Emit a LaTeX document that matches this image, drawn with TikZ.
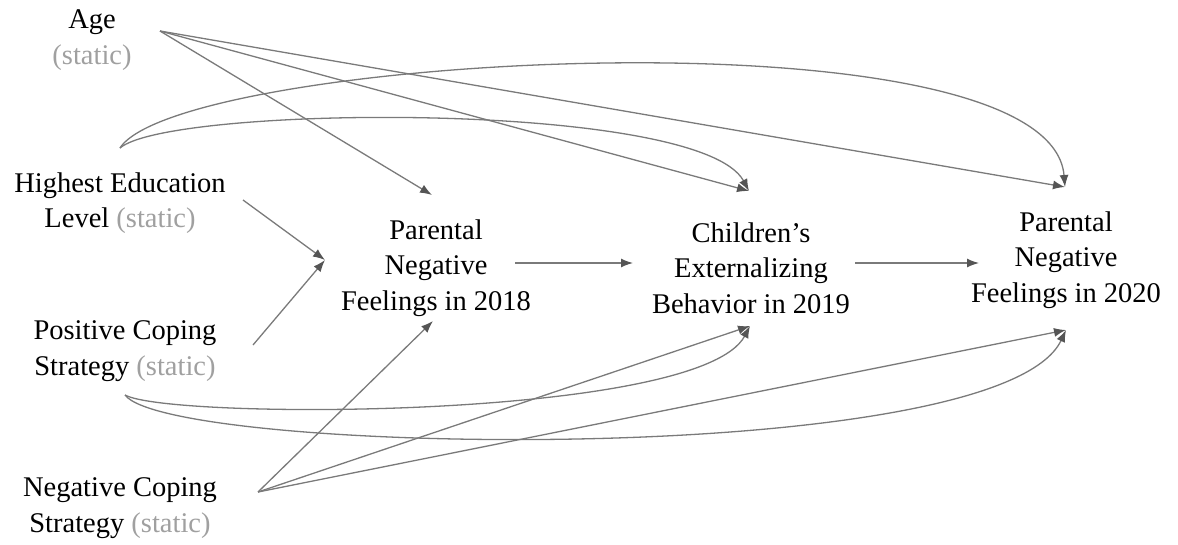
\documentclass[tikz,border=0pt]{standalone}
\usepackage{fontspec}
\setmainfont{Liberation Serif}
\usetikzlibrary{arrows.meta}
\definecolor{lnc}{HTML}{7A7A7A}
\definecolor{tipc}{HTML}{555555}
\definecolor{stc}{HTML}{A0A0A0}
\tikzset{
  lbl/.style={align=center, font=\fontsize{28.5}{35.5}\selectfont, inner sep=0pt},
  conn/.style={draw=lnc, line width=1.3pt, -{Latex[length=12pt,width=9pt,color=tipc]}},
}
\newcommand{\stat}{\textcolor{stc}{(static)}}
\begin{document}
\begin{tikzpicture}[x=1pt,y=-1pt]
\useasboundingbox (0,0) rectangle (1178,544);
% nodes
\node[lbl] (age) at (92,40) {Age\\\stat};
\node[lbl] (edu) at (120,203) {Highest Education\\Level \stat};
\node[lbl] (pos) at (125,351) {Positive Coping\\Strategy \stat};
\node[lbl] (neg) at (120,508) {Negative Coping\\Strategy \stat};
\node[lbl] (p18) at (436,268) {Parental\\Negative\\Feelings in 2018};
\node[lbl] (ch) at (751,268) {Children’s\\Externalizing\\Behavior in 2019};
\node[lbl] (p20) at (1066,260) {Parental\\Negative\\Feelings in 2020};
% connector ends
\coordinate (ageO) at (160,31);
\coordinate (eduC) at (120,148);
\coordinate (eduO) at (243,200);
\coordinate (posO) at (253,345);
\coordinate (posC) at (125,395);
\coordinate (negO) at (258,492);
\coordinate (p18T) at (432,195);
\coordinate (p18L) at (325,260);
\coordinate (p18B) at (433,321);
\coordinate (p18R) at (515,263);
\coordinate (chL) at (633,263);
\coordinate (chT) at (749,191);
\coordinate (chB) at (750,326);
\coordinate (chR) at (855,263);
\coordinate (p20L) at (979,263);
\coordinate (p20T) at (1065,187);
\coordinate (p20B) at (1066,330);
% straight connectors
\draw[conn] (ageO) -- (p18T);
\draw[conn] (ageO) -- (chT);
\draw[conn] (ageO) -- (p20T);
\draw[conn] (eduO) -- (p18L);
\draw[conn] (posO) -- (p18L);
\draw[conn] (p18R) -- (chL);
\draw[conn] (chR) -- (p20L);
\draw[conn] (negO) -- (p18B);
\draw[conn] (negO) -- (chB);
\draw[conn] (negO) -- (p20B);
% curved connectors
\draw[conn] (eduC) .. controls (180,55) and (1050,5) .. (p20T);
\draw[conn] (eduC) .. controls (170,105) and (700,100) .. (chT);
\draw[conn] (posC) .. controls (170,420) and (700,420) .. (chB);
\draw[conn] (posC) .. controls (170,455) and (1000,470) .. (p20B);
\end{tikzpicture}
\end{document}
